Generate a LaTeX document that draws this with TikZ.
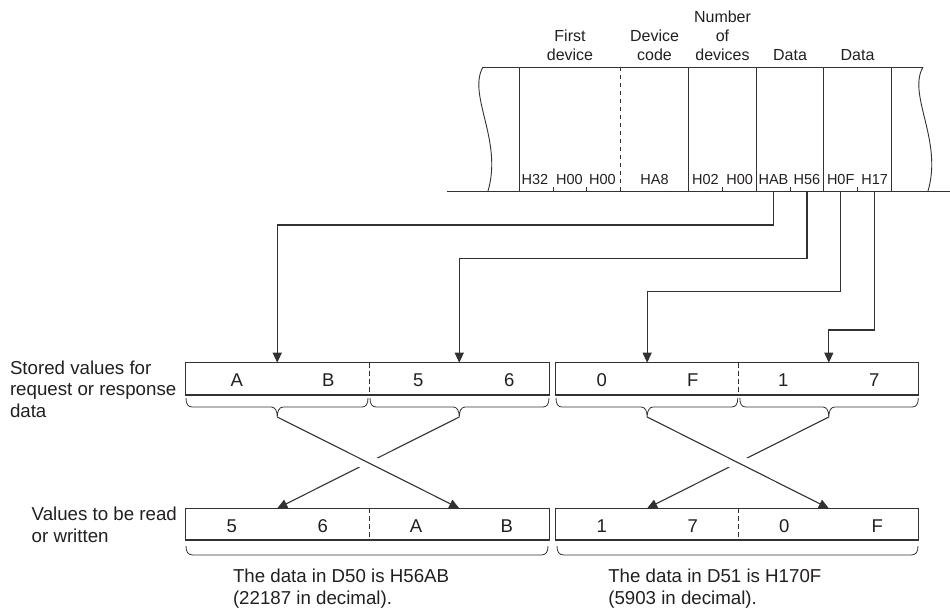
\documentclass[tikz,border=0pt]{standalone}
\usepackage{fontspec}
\setmainfont{Liberation Sans}
\usetikzlibrary{arrows.meta,calc}
\definecolor{ink}{RGB}{35,31,32}
\definecolor{lineink}{RGB}{50,50,50}
\newcommand{\tipbrace}[4]{%
  \draw[brc] ({#1},{#4}) .. controls ({#1},{#4+6}) and ({#1+2},{#4+9}) .. ({#1+6},{#4+9})
    -- ({#3-6},{#4+9}) .. controls ({#3-2},{#4+9}) and ({#3},{#4+13}) .. ({#3},{#4+19})
    .. controls ({#3},{#4+13}) and ({#3+2},{#4+9}) .. ({#3+6},{#4+9})
    -- ({#2-6},{#4+9}) .. controls ({#2-2},{#4+9}) and ({#2},{#4+6}) .. ({#2},{#4});}
\newcommand{\flatbrace}[3]{%
  \draw[brc] ({#1},{#3}) .. controls ({#1},{#3+6}) and ({#1+2},{#3+9}) .. ({#1+7},{#3+9})
    -- ({#2-7},{#3+9}) .. controls ({#2-2},{#3+9}) and ({#2},{#3+6}) .. ({#2},{#3});}
\begin{document}
\begin{tikzpicture}[x=1pt,y=-1pt,
  every node/.style={inner sep=0pt,outer sep=0pt,text=ink},
  lbl/.style={font=\fontsize{18.7}{21.5}\selectfont,align=left,anchor=base west},
  hdr/.style={font=\fontsize{16}{19}\selectfont,align=center,anchor=base},
  byte/.style={font=\fontsize{14.5}{17}\selectfont,anchor=base},
  letter/.style={font=\fontsize{18.5}{21}\selectfont,anchor=base},
  frame/.style={draw=lineink,line width=0.9pt},
  boxline/.style={draw=lineink,line width=1.3pt},
  divider/.style={draw=lineink,line width=1pt,dash pattern=on 5pt off 3pt},
  fdash/.style={draw=lineink,line width=0.9pt,dash pattern=on 4pt off 4pt},
  conn/.style={draw=lineink,line width=1.1pt},
  arr/.style={conn,-{Triangle[length=10pt,width=9pt]}},
  brc/.style={draw=lineink,line width=0.8pt},
  gapline/.style={draw=white,line width=16pt,shorten <=70pt,shorten >=70pt},
]
\useasboundingbox (0,0) rectangle (950,612);

% ---------- top frame ----------
\coordinate (tL) at (483,67);
\coordinate (tR) at (923,67);
\coordinate (bL) at (447,191);
\coordinate (bR) at (950,191);
\draw[frame] (tL) -- (tR);
\draw[frame] (bL) -- (bR);
\draw[frame] (483,67) .. controls (467,95) and (503,140) .. (488,191);
\draw[frame] (923,67) .. controls (907,95) and (943,140) .. (928,191);
\foreach \x in {519.3,688.3,756.7,823.3,891.7} \draw[frame] (\x,67) -- (\x,191);
\draw[fdash] (620.7,67) -- (620.7,191);
\foreach \x in {553.3,586.7,722.7,790.7,857.3} \draw[frame] (\x,187.5) -- (\x,191);

% headers (anchor = baseline of last line)
\node[hdr] (hFirst) at (570,61) {First\\device};
\node[hdr] (hCode) at (654.5,61) {Device\\code};
\node[hdr] (hNum) at (722.5,61) {Number\\of\\devices};
\node[hdr] (hData1) at (790,61) {Data};
\node[hdr] (hData2) at (857.5,61) {Data};

% byte values
\node[byte] (b1) at (535,185) {H32};
\node[byte] (b2) at (569.5,185) {H00};
\node[byte] (b3) at (602.5,185) {H00};
\node[byte] (b4) at (654.5,185) {HA8};
\node[byte] (b5) at (705.5,185) {H02};
\node[byte] (b6) at (739.7,185) {H00};
\node[byte] (hAB) at (773.5,185) {HAB};
\node[byte] (h56) at (807,185) {H56};
\node[byte] (h0F) at (840.7,185) {H0F};
\node[byte] (h17) at (874.7,185) {H17};

% ---------- row 1 ----------
\node[minimum width=183.5pt,minimum height=32.3pt] (r1a) at (277.25,378.85) {};
\node[minimum width=180.5pt,minimum height=32.3pt] (r1b) at (459.25,378.85) {};
\node[minimum width=183.3pt,minimum height=32.3pt] (r1c) at (647.15,378.85) {};
\node[minimum width=180pt,minimum height=32.3pt] (r1d) at (828.8,378.85) {};
\draw[boxline] (r1a.north west) rectangle (r1b.south east);
\draw[boxline] (r1c.north west) rectangle (r1d.south east);
\draw[divider] (r1a.north east) -- (r1a.south east);
\draw[divider] (r1c.north east) -- (r1c.south east);

\node[letter] (l1) at (236.7,386) {A};
\node[letter] (l2) at (328.3,386) {B};
\node[letter] (l3) at (418.3,386) {5};
\node[letter] (l4) at (509.3,386) {6};
\node[letter] (l5) at (601.7,386) {0};
\node[letter] (l6) at (692.7,386) {F};
\node[letter] (l7) at (783.3,386) {1};
\node[letter] (l8) at (874.3,386) {7};

\tipbrace{186}{368}{277.25}{398}
\tipbrace{370}{549}{459.25}{398}
\tipbrace{556}{737.8}{647.15}{398}
\tipbrace{739.8}{918.3}{828.8}{398}
\coordinate (t1a) at (277.25,417);
\coordinate (t1b) at (459.25,417);
\coordinate (t1c) at (647.15,417);
\coordinate (t1d) at (828.8,417);

% ---------- row 2 ----------
\node[minimum width=183.5pt,minimum height=31.7pt] (r2a) at (277.25,524.15) {};
\node[minimum width=180.5pt,minimum height=31.7pt] (r2b) at (459.25,524.15) {};
\node[minimum width=183.3pt,minimum height=31.7pt] (r2c) at (647.15,524.15) {};
\node[minimum width=180pt,minimum height=31.7pt] (r2d) at (828.8,524.15) {};
\draw[boxline] (r2a.north west) rectangle (r2b.south east);
\draw[boxline] (r2c.north west) rectangle (r2d.south east);
\draw[divider] (r2a.north east) -- (r2a.south east);
\draw[divider] (r2c.north east) -- (r2c.south east);

\node[letter] (m1) at (231.7,532.7) {5};
\node[letter] (m2) at (322.7,532.7) {6};
\node[letter] (m3) at (416,532.7) {A};
\node[letter] (m4) at (506.7,532.7) {B};
\node[letter] (m5) at (601.7,532.7) {1};
\node[letter] (m6) at (692.7,532.7) {7};
\node[letter] (m7) at (784.3,532.7) {0};
\node[letter] (m8) at (877.3,532.7) {F};

\flatbrace{186}{548}{546}
\flatbrace{557}{918}{546}

% ---------- connectors ----------
\draw[arr] (hAB |- bL) -- ++(0,34) -| (r1a.north);
\draw[arr] (h56 |- bL) -- ++(0,67.3) -| (r1b.north);
\draw[arr] (h0F |- bL) -- ++(0,100.7) -| (r1c.north);
\draw[arr] (h17 |- bL) -- ++(0,139) -| (r1d.north);

\draw[arr] (t1b) -- (r2a.north);
\draw[gapline] (t1a) -- (r2b.north);
\draw[arr] (t1a) -- (r2b.north);
\draw[arr] (t1d) -- (r2c.north);
\draw[gapline] (t1c) -- (r2d.north);
\draw[arr] (t1c) -- (r2d.north);

% ---------- texts (anchor = baseline of last line) ----------
\node[lbl] (lblStored) at (10,417) {Stored values for\\request or response\\data};
\node[lbl] (lblValues) at (31.7,542.3) {Values to be read\\or written};
\node[lbl] (txtD50) at (233,604) {The data in D50 is H56AB\\(22187 in decimal).};
\node[lbl] (txtD51) at (608.3,604) {The data in D51 is H170F\\(5903 in decimal).};
\end{tikzpicture}
\end{document}
